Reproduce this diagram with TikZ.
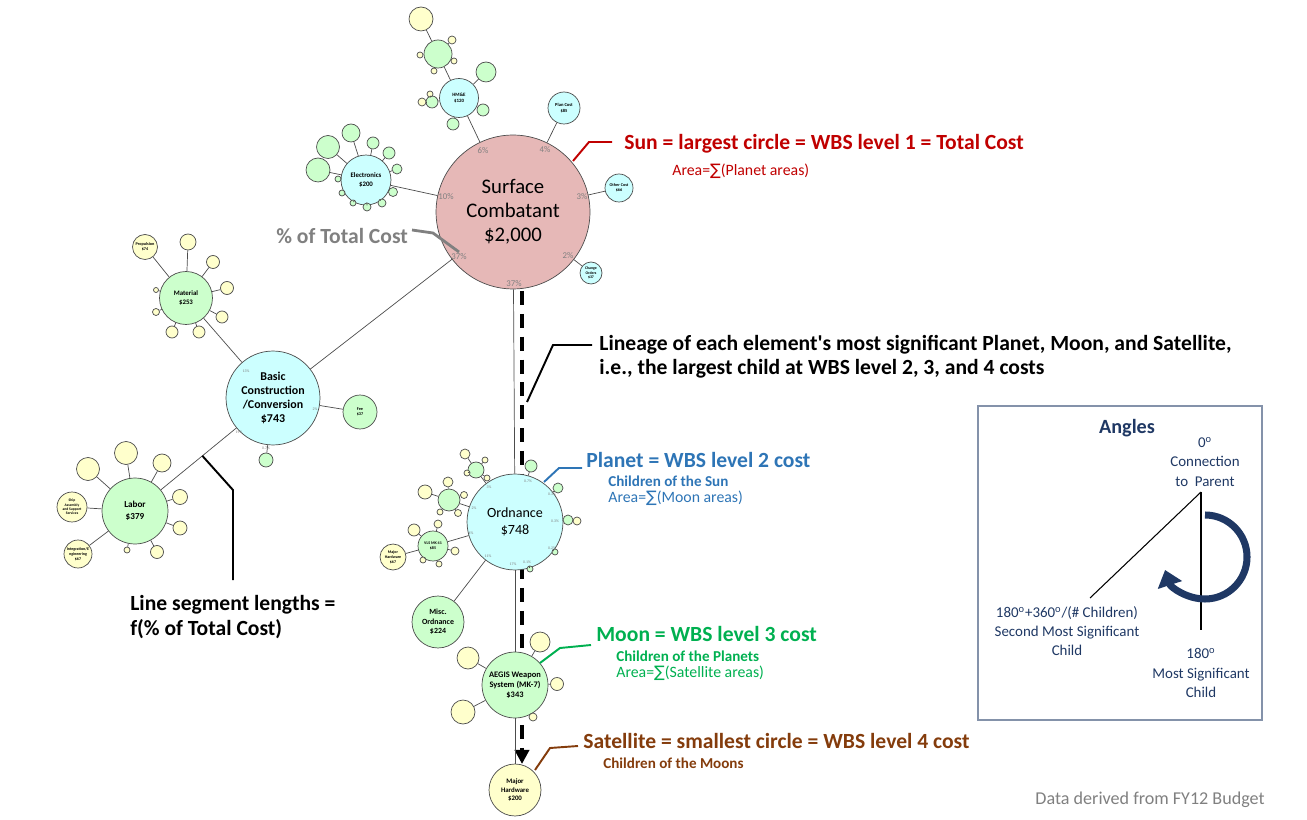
\documentclass[tikz,border=0pt]{standalone}
\usepackage{fontspec}
\setmainfont{Carlito}
\newfontfamily\symfont{DejaVu Sans}
\usetikzlibrary{arrows.meta}

\definecolor{sunfill}{HTML}{E6B8B7}
\definecolor{planetfill}{HTML}{CCFFFF}
\definecolor{moonfill}{HTML}{CCFFCC}
\definecolor{satfill}{HTML}{FFFFCC}
\definecolor{sunred}{HTML}{C00000}
\definecolor{planetblue}{HTML}{2E75B6}
\definecolor{moongreen}{HTML}{00B050}
\definecolor{satbrown}{HTML}{843C0C}
\definecolor{navy}{HTML}{1F3864}
\definecolor{pctgray}{HTML}{808080}

\newcommand{\fsz}[2]{\fontsize{#1}{#2}\selectfont}
\newcommand{\sumsign}{{\symfont\char"2211}}

\tikzset{
  orb/.style={circle,draw=black!70,line width=0.4pt,inner sep=0pt,minimum size=#1*0.04cm,align=center},
  sunorb/.style={orb=#1,fill=sunfill},
  planet/.style={orb=#1,fill=planetfill},
  moon/.style={orb=#1,fill=moonfill},
  sat/.style={orb=#1,fill=satfill},
  link/.style={draw=black!70,line width=0.4pt},
  pctbig/.style={text=pctgray,font=\fsz{5}{6},inner sep=0pt},
  pct/.style={text=pctgray,font=\fsz{2.2}{2.4},inner sep=0pt},
  tag/.style={font=\fsz{12.3}{13.6}\bfseries,anchor=west,inner sep=0pt,align=left},
  subtag/.style={font=\fsz{8.6}{9}\bfseries,anchor=west,inner sep=0pt},
  areatag/.style={font=\fsz{9}{10},anchor=west,inner sep=0pt},
  leader/.style={line width=1.1pt},
  lineage/.style={line width=2.2pt,dash pattern=on 8pt off 5pt,-{Triangle[length=8pt,width=8pt]}},
  angtext/.style={text=navy,font=\fsz{8.5}{11},align=center,inner sep=0pt}
}

\begin{document}
\begin{tikzpicture}[x=0.02cm,y=-0.02cm]
\useasboundingbox (0,0) rectangle (1307,820);

% lineage arrow, behind the circles
\coordinate (L0) at (522,291);
\coordinate (L1) at (522,764);
\draw[lineage] (L0) -- (L1);

% sun
\node[sunorb=77,font=\fsz{11.8}{13.6}] (sun) at (513,212) {Surface\\Combatant\\\$2,000};

% planets
\node[planet=19.5,font=\fsz{2.8}{3.4}\bfseries] (hme) at (459,98) {HM\&E\\\$120};
\node[planet=16,font=\fsz{2.6}{3.2}\bfseries] (plan) at (564,108) {Plan Cost\\\$85};
\node[planet=14,font=\fsz{2.4}{3}\bfseries] (othercost) at (619,188) {Other Cost\\\$66};
\node[planet=11,font=\fsz{2.2}{2.6}\bfseries] (change) at (591,273) {Change\\Orders\\\$37};
\node[planet=25,font=\fsz{3.9}{4.6}\bfseries] (elec) at (366,180) {Electronics\\\$200};
\node[planet=47,font=\fsz{6.8}{8}\bfseries] (basic) at (273,398) {Basic\\Construction\\/Conversion\\\$743};
\node[planet=48,font=\fsz{8}{9.6}] (ord) at (515,522) {Ordnance\\\$748};

% moons and satellites of HM&E
\node[moon=14] (hmeA) at (438,54) {};
\node[moon=10] (hmeB) at (486,72) {};
\node[moon=6] (hmeC) at (432,102) {};
\node[moon=6] (hmeD) at (453,124) {};
\node[moon=6] (hmeE) at (483,110) {};
\node[sat=12] (hmeS1) at (421,19) {};
\node[sat=4] (hmeS2) at (452,40) {};
\node[sat=3] (hmeS3) at (420,55) {};
\node[sat=3] (hmeS4) at (434,71) {};
\node[sat=3] (hmeS5) at (454,61) {};
\node[sat=4] (hmeS6) at (422,102) {};
\node[sat=3] (hmeS7) at (430,94) {};

% moons of Electronics
\node[moon=12] (elA) at (318,170) {};
\node[moon=11.5] (elB) at (328,147) {};
\node[moon=9] (elC) at (351,133) {};
\node[moon=6] (elD) at (373,143) {};
\node[moon=6] (elE) at (389,153) {};
\node[moon=5] (elF) at (397,169) {};
\node[moon=4.5] (elG) at (393,192) {};
\node[moon=4] (elH) at (382,203) {};
\node[moon=4] (elI) at (367,207) {};
\node[moon=3] (elJ) at (353,203) {};
\node[moon=3] (elK) at (342,193) {};
\node[moon=3] (elL) at (338,179) {};

% moons of Basic Construction
\node[moon=26.5,font=\fsz{3.9}{4.6}\bfseries] (material) at (186,298) {Material\\\$253};
\node[moon=33,font=\fsz{5.2}{6.6}\bfseries] (labor) at (135,511) {Labor\\\$379};
\node[moon=17,font=\fsz{2.4}{2.8}\bfseries] (fee) at (360,412) {Fee\\\$37};
\node[moon=7] (basD) at (266,460) {};

% satellites of Material
\node[sat=12.5,font=\fsz{2.4}{2.9}\bfseries] (matA) at (145,247) {Propulsion\\\$74};
\node[sat=8] (matB) at (188,242) {};
\node[sat=6.5] (matC) at (213,262) {};
\node[sat=6.5] (matD) at (227,288) {};
\node[sat=6] (matE) at (222,317) {};
\node[sat=6] (matF) at (199,332) {};
\node[sat=6] (matG) at (172,332) {};
\node[sat=3.5] (matH) at (156,312) {};
\node[sat=2.5] (matI) at (156,290) {};

% satellites of Labor
\node[sat=11.5] (labA) at (88,469) {};
\node[sat=11.5] (labB) at (126,453) {};
\node[sat=9] (labC) at (162,463) {};
\node[sat=7.5] (labD) at (180,497) {};
\node[sat=7] (labE) at (180,528) {};
\node[sat=6.5] (labF) at (157,552) {};
\node[sat=3] (labG) at (127,550) {};
\node[sat=15,font=\fsz{2.1}{2.5}\bfseries] (labH) at (72,507) {Ship\\Assembly\\and Support\\Services};
\node[sat=14,font=\fsz{2.3}{2.8}\bfseries] (labI) at (78,554) {Integration/E\\ngineering\\\$67};

% moons of Ordnance
\node[moon=8] (ordA) at (476,470) {};
\node[moon=11] (ordB) at (449,500) {};
\node[moon=15,font=\fsz{2.3}{2.8}\bfseries] (vls) at (433,546) {VLS MK 41\\\$85};
\node[moon=26,font=\fsz{4.5}{5.4}\bfseries] (misc) at (438,622) {Misc.\\Ordnance\\\$224};
\node[moon=33,font=\fsz{4.8}{5.7}\bfseries] (aegis) at (515,685) {AEGIS Weapon\\System (MK-7)\\\$343};
\node[moon=6] (ordR1) at (531,466) {};
\node[moon=5] (ordR2) at (558,488) {};
\node[moon=5] (ordR3) at (568,520) {};
\node[moon=3] (ordR4) at (555,552) {};
\node[moon=3] (ordR5) at (530,569) {};
\node[sat=4] (ordR3s) at (577,521) {};

% satellites of the Ordnance moons
\node[sat=5] (oaS1) at (465,454) {};
\node[sat=3] (oaS2) at (485,460) {};
\node[sat=3] (oaS3) at (467,473) {};
\node[sat=3] (oaS4) at (487,478) {};
\node[sat=5] (obS1) at (448,482) {};
\node[sat=7] (obS2) at (425,492) {};
\node[sat=3.5] (obS3) at (464,495) {};
\node[sat=3.5] (obS4) at (458,513) {};
\node[sat=3] (obS5) at (440,512) {};
\node[sat=6] (vS1) at (414,530) {};
\node[sat=4] (vS2) at (438,524) {};
\node[sat=4] (vS3) at (455,551) {};
\node[sat=3] (vS4) at (439,564) {};
\node[sat=3] (vS5) at (423,560) {};
\node[sat=13,font=\fsz{2.3}{2.8}\bfseries] (mh67) at (393,557) {Major\\Hardware\\\$67};

% satellites of AEGIS
\node[sat=10] (agS1) at (540,642) {};
\node[sat=6.5] (agS2) at (557,684) {};
\node[sat=4] (agS3) at (533,717) {};
\node[sat=11] (agS4) at (468,658) {};
\node[sat=12] (agS5) at (463,712) {};
\node[sat=26,font=\fsz{3.9}{4.6}\bfseries] (majhw) at (515,790) {Major\\Hardware\\\$200};

% connections
\draw[link] (sun) -- (hme);
\draw[link] (sun) -- (plan);
\draw[link] (sun) -- (othercost);
\draw[link] (sun) -- (change);
\draw[link] (sun) -- (elec);
\draw[link] (sun) -- (basic);
\draw[link] (sun) -- (ord);
\draw[link] (hme) -- (hmeA);
\draw[link] (hme) -- (hmeB);
\draw[link] (hme) -- (hmeC);
\draw[link] (hme) -- (hmeD);
\draw[link] (hme) -- (hmeE);
\draw[link] (hmeA) -- (hmeS1);
\draw[link] (hmeA) -- (hmeS2);
\draw[link] (hmeA) -- (hmeS3);
\draw[link] (hmeA) -- (hmeS4);
\draw[link] (hmeA) -- (hmeS5);
\draw[link] (hmeC) -- (hmeS6);
\draw[link] (hmeC) -- (hmeS7);
\draw[link] (elec) -- (elA);
\draw[link] (elec) -- (elB);
\draw[link] (elec) -- (elC);
\draw[link] (elec) -- (elD);
\draw[link] (elec) -- (elE);
\draw[link] (elec) -- (elF);
\draw[link] (elec) -- (elG);
\draw[link] (elec) -- (elH);
\draw[link] (elec) -- (elI);
\draw[link] (elec) -- (elJ);
\draw[link] (elec) -- (elK);
\draw[link] (elec) -- (elL);
\draw[link] (basic) -- (material);
\draw[link] (basic) -- (labor) coordinate[pos=0.45] (segFoot);
\draw[link] (basic) -- (fee);
\draw[link] (basic) -- (basD);
\draw[link] (material) -- (matA);
\draw[link] (material) -- (matB);
\draw[link] (material) -- (matC);
\draw[link] (material) -- (matD);
\draw[link] (material) -- (matE);
\draw[link] (material) -- (matF);
\draw[link] (material) -- (matG);
\draw[link] (material) -- (matH);
\draw[link] (material) -- (matI);
\draw[link] (labor) -- (labA);
\draw[link] (labor) -- (labB);
\draw[link] (labor) -- (labC);
\draw[link] (labor) -- (labD);
\draw[link] (labor) -- (labE);
\draw[link] (labor) -- (labF);
\draw[link] (labor) -- (labG);
\draw[link] (labor) -- (labH);
\draw[link] (labor) -- (labI);
\draw[link] (ord) -- (ordA);
\draw[link] (ord) -- (ordB);
\draw[link] (ord) -- (vls);
\draw[link] (ord) -- (misc);
\draw[link] (ord) -- (aegis);
\draw[link] (ord) -- (ordR1);
\draw[link] (ord) -- (ordR2);
\draw[link] (ord) -- (ordR3);
\draw[link] (ord) -- (ordR4);
\draw[link] (ord) -- (ordR5);
\draw[link] (ordR3) -- (ordR3s);
\draw[link] (ordA) -- (oaS1);
\draw[link] (ordA) -- (oaS2);
\draw[link] (ordA) -- (oaS3);
\draw[link] (ordA) -- (oaS4);
\draw[link] (ordB) -- (obS1);
\draw[link] (ordB) -- (obS2);
\draw[link] (ordB) -- (obS3);
\draw[link] (ordB) -- (obS4);
\draw[link] (ordB) -- (obS5);
\draw[link] (vls) -- (vS1);
\draw[link] (vls) -- (vS2);
\draw[link] (vls) -- (vS3);
\draw[link] (vls) -- (vS4);
\draw[link] (vls) -- (vS5);
\draw[link] (vls) -- (mh67);
\draw[link] (aegis) -- (agS1);
\draw[link] (aegis) -- (agS2);
\draw[link] (aegis) -- (agS3);
\draw[link] (aegis) -- (agS4);
\draw[link] (aegis) -- (agS5);
\draw[link] (aegis) -- (majhw);

% percent of total cost
\node[pctbig] (pc1) at (483,151) {6\%};
\node[pctbig] (pc2) at (545,150) {4\%};
\node[pctbig] (pc3) at (446,197) {10\%};
\node[pctbig] (pc4) at (582,197) {3\%};
\node[pctbig] (pc5) at (459,257) {37\%};
\node[pctbig] (pc6) at (514,284) {37\%};
\node[pctbig] (pc7) at (568,256) {2\%};
\node[pct] (pb1) at (246,371) {13\%};
\node[pct] (pb2) at (239,432) {19\%};
\node[pct] (pb3) at (315,409) {2\%};
\node[pct] (pb4) at (266,448) {0.7\%};
\node[pct] (po1) at (528,481) {0.7\%};
\node[pct] (po2) at (489,487) {3\%};
\node[pct] (po3) at (474,508) {2\%};
\node[pct] (po4) at (471,533) {4\%};
\node[pct] (po5) at (488,556) {11\%};
\node[pct] (po6) at (513,564) {17\%};
\node[pct] (po7) at (527,562) {0.1\%};
\node[pct] (po8) at (552,548) {0.2\%};
\node[pct] (po9) at (555,521) {0.3\%};
\node[pct] (po10) at (552,494) {0.3\%};

% Sun
\coordinate (r0) at (573,161);
\coordinate (r1) at (589,142);
\coordinate (r2) at (612,142);
\draw[leader,sunred] (r0) -- (r1) -- (r2);
\node[tag,text=sunred] (sunTag) at (624,144) {Sun = largest circle = WBS level 1 = Total Cost};
\node[areatag,text=sunred] (sunArea) at (672,171) {Area=\sumsign(Planet areas)};

% % of total cost
\coordinate (g0) at (412,230);
\coordinate (g1) at (433,233);
\coordinate (g2) at (459,252);
\draw[leader,pctgray,line width=1.6pt] (g0) -- (g1) -- (g2);
\node[tag,text=pctgray] (pctTag) at (276,236) {\% of Total Cost};

% lineage
\coordinate (k0) at (527,402);
\coordinate (k1) at (553,345);
\coordinate (k2) at (592,345);
\draw[leader] (k0) -- (k1) -- (k2);
\node[tag] (lineTag) at (599,357) {Lineage of each element\textquotesingle s most significant Planet, Moon, and Satellite,\\i.e., the largest child at WBS level 2, 3, and 4 costs};

% Planet
\coordinate (b0) at (544,482);
\coordinate (b1) at (559,468);
\coordinate (b2) at (582,468);
\draw[leader,planetblue] (b0) -- (b1) -- (b2);
\node[tag,text=planetblue] (planetTag) at (586,460) {Planet = WBS level 2 cost};
\node[subtag,text=planetblue] (planetSub) at (608,481) {Children of the Sun};
\node[areatag,text=planetblue] (planetArea) at (608,498) {Area=\sumsign(Moon areas)};

% Moon
\coordinate (m0) at (540,663);
\coordinate (m1) at (560,648);
\coordinate (m2) at (591,645);
\draw[leader,moongreen] (m0) -- (m1) -- (m2);
\node[tag,text=moongreen] (moonTag) at (596,634) {Moon = WBS level 3 cost};
\node[subtag,text=moongreen] (moonSub) at (616,656) {Children of the Planets};
\node[areatag,text=moongreen] (moonArea) at (616,673) {Area=\sumsign(Satellite areas)};

% Satellite
\coordinate (s0) at (535,770);
\coordinate (s1) at (550,748);
\coordinate (s2) at (578,746);
\draw[leader,satbrown] (s0) -- (s1) -- (s2);
\node[tag,text=satbrown] (satTag) at (583,741) {Satellite = smallest circle = WBS level 4 cost};
\node[subtag,text=satbrown] (satSub) at (603,763) {Children of the Moons};

% line segment lengths
\coordinate (f1) at (233,490);
\coordinate (f2) at (233,580);
\draw[leader] (segFoot) -- (f1) -- (f2);
\node[tag,font=\fsz{12.3}{14}\bfseries] (segTag) at (130,617) {Line segment lengths =\\f(\% of Total Cost)};

% angles
\draw[draw=navy!55,line width=0.6pt] (978,406) rectangle (1262,720);
\node[text=navy,font=\fsz{11.5}{13}\bfseries,inner sep=0pt] (angTitle) at (1127,428) {Angles};
\node[angtext] (angTop) at (1205,462) {0\textsuperscript{o}\\Connection\\to\ \ Parent};
\coordinate (apex) at (1201,492);
\coordinate (mostEnd) at (1201,630);
\coordinate (secondEnd) at (1090,598);
\draw[line width=0.6pt] (apex) -- (mostEnd);
\draw[line width=0.6pt] (apex) -- (secondEnd);
\draw[navy,line width=4pt,-{Triangle[length=9pt,width=14pt]}] (1205,515) arc[start angle=-90,end angle=162,radius=42];
\node[angtext] (angSecond) at (1067,631) {180\textsuperscript{o}+360\textsuperscript{o}/(\# Children)\\Second Most Significant\\Child};
\node[angtext] (angMost) at (1201,673) {180\textsuperscript{o}\\Most Significant\\Child};

\node[text=pctgray,font=\fsz{10.3}{11},anchor=east,inner sep=0pt] (dataNote) at (1265,800) {Data derived from FY12 Budget};

\end{tikzpicture}
\end{document}
